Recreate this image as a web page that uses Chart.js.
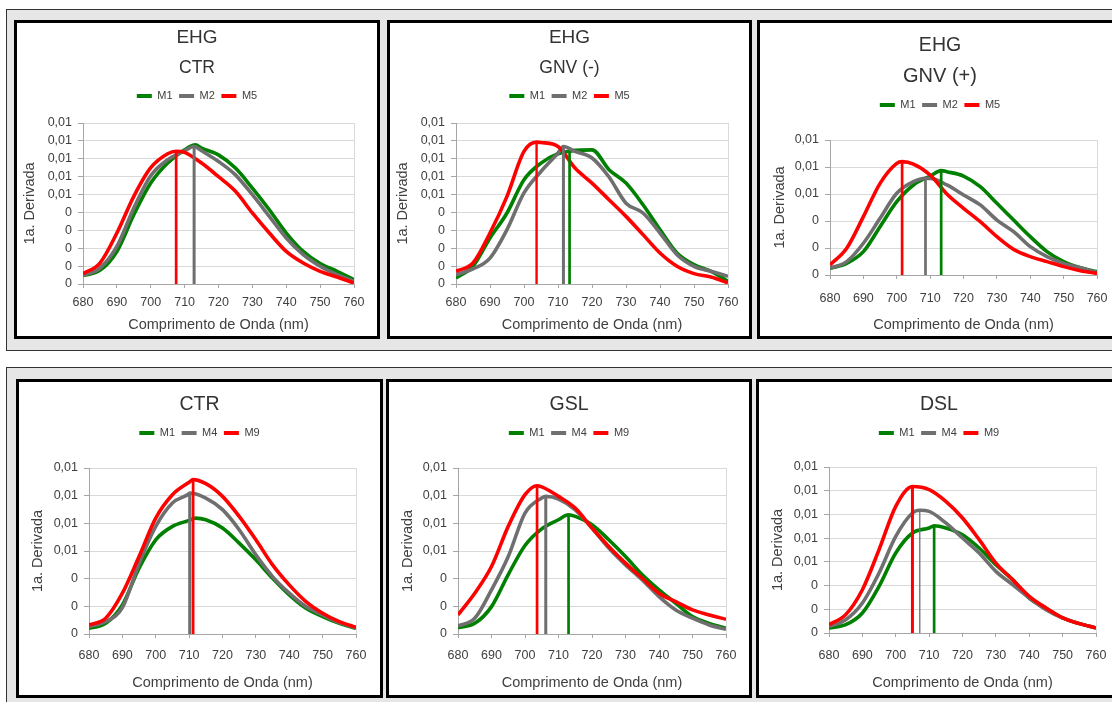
<!DOCTYPE html>
<html><head><meta charset="utf-8">
<script src="https://cdn.jsdelivr.net/npm/chart.js@4.4.1/dist/chart.umd.min.js"></script>
<style>
html,body{margin:0;padding:0;background:#fff;width:1112px;height:702px;overflow:hidden;position:relative;}
.group{position:absolute;background:#e6e6e6;border:1px solid #333;box-sizing:border-box;}
.panel{position:absolute;background:#fff;border:3px solid #000;box-sizing:border-box;overflow:hidden;}
.panel canvas{position:absolute;left:0;top:0;}
</style></head><body>
<div class="group" style="left:6px;top:9px;width:1130px;height:342px"></div>
<div class="group" style="left:6px;top:367px;width:1130px;height:360px"></div>
<div class="panel" style="left:14px;top:20px;width:366px;height:319px"><canvas id="c0" width="360" height="313"></canvas></div>
<div class="panel" style="left:387px;top:20px;width:365px;height:319px"><canvas id="c1" width="359" height="313"></canvas></div>
<div class="panel" style="left:757px;top:20px;width:366px;height:319px"><canvas id="c2" width="360" height="313"></canvas></div>
<div class="panel" style="left:16px;top:379px;width:367px;height:319px"><canvas id="c3" width="361" height="313"></canvas></div>
<div class="panel" style="left:386px;top:379px;width:366px;height:319px"><canvas id="c4" width="360" height="313"></canvas></div>
<div class="panel" style="left:756px;top:379px;width:366px;height:319px"><canvas id="c5" width="360" height="313"></canvas></div>
<script>
// ---------- DATA ----------
const WAVELENGTHS = [680,685,690,695,700,705,710,715,720,725,730,735,740,745,750,755,760];
const X_TICK_MIN = 680, X_TICK_MAX = 760, X_TICK_STEP = 10;
const Y_MAX  = [0.009, 0.009, 0.010, 0.012, 0.012, 0.014];
const Y_STEP = [0.001, 0.001, 0.002, 0.002, 0.002, 0.002];
const TITLES    = ['EHG', 'EHG', 'EHG', 'CTR', 'GSL', 'DSL'];
const SUBTITLES = ['CTR', 'GNV (-)', 'GNV (+)', null, null, null];
const SERIES_TOP    = ['M1', 'M2', 'M5'];
const SERIES_BOTTOM = ['M1', 'M4', 'M9'];
const X_TITLE = 'Comprimento de Onda (nm)';
const Y_TITLE = '1a. Derivada';

// EHG - CTR
const ehgCtr_M1 = [0.00047,0.00076,0.00182,0.00387,0.00564,0.00676,0.00750,0.00760,0.00722,0.00648,0.00536,0.00415,0.00285,0.00182,0.00114,0.00071,0.00024];
const ehgCtr_M2 = [0.00047,0.00089,0.00210,0.00425,0.00605,0.00695,0.00745,0.00745,0.00685,0.00610,0.00499,0.00378,0.00257,0.00164,0.00099,0.00052,0.00015];
const ehgCtr_M5 = [0.00058,0.00117,0.00285,0.00490,0.00650,0.00728,0.00736,0.00676,0.00600,0.00518,0.00397,0.00285,0.00182,0.00117,0.00071,0.00039,0.00005];
const ehgCtr_markX   = [713.2, 712.8, 707.5];
const ehgCtr_markTop = [0.00778, 0.00769, 0.00742];
const ehgCtr_markOn  = [0, 1, 1];

// EHG - GNV (-)
const ehgNeg_M1 = [0.00034,0.00099,0.00257,0.00397,0.00583,0.00676,0.00728,0.00747,0.00750,0.00639,0.00564,0.00443,0.00304,0.00173,0.00108,0.00071,0.00015];
const ehgNeg_M2 = [0.00052,0.00084,0.00145,0.00304,0.00509,0.00629,0.00732,0.00741,0.00704,0.00598,0.00452,0.00397,0.00285,0.00164,0.00099,0.00071,0.00043];
const ehgNeg_M5 = [0.00071,0.00117,0.00285,0.00490,0.00741,0.00791,0.00769,0.00648,0.00564,0.00471,0.00378,0.00276,0.00173,0.00099,0.00058,0.00039,0.00006];
const ehgNeg_markX   = [713.4, 711.6, 703.7];
const ehgNeg_markTop = [0.00742, 0.00769, 0.00793];
const ehgNeg_markOn  = [1, 1, 1];

// EHG - GNV (+)
const ehgPos_M1 = [0.00049,0.00086,0.00173,0.00358,0.00543,0.00667,0.00733,0.00765,0.00733,0.00654,0.00531,0.00407,0.00284,0.00173,0.00099,0.00054,0.00025];
const ehgPos_M2 = [0.00049,0.00099,0.00235,0.00420,0.00605,0.00691,0.00716,0.00667,0.00593,0.00519,0.00407,0.00321,0.00210,0.00136,0.00086,0.00054,0.00017];
const ehgPos_M5 = [0.00074,0.00198,0.00432,0.00679,0.00827,0.00822,0.00741,0.00600,0.00494,0.00395,0.00284,0.00190,0.00136,0.00099,0.00062,0.00032,0.00012];
const ehgPos_markX   = [713.3, 708.6, 701.6];
const ehgPos_markTop = [0.00773, 0.00716, 0.00840];
const ehgPos_markOn  = [1, 1, 1];

// CTR
const ctr_M1 = [0.00041,0.00077,0.00210,0.00476,0.00681,0.00778,0.00821,0.00826,0.00766,0.00657,0.00536,0.00403,0.00283,0.00186,0.00126,0.00077,0.00041];
const ctr_M4 = [0.00053,0.00089,0.00190,0.00510,0.00778,0.00947,0.01014,0.00983,0.00899,0.00754,0.00572,0.00415,0.00295,0.00198,0.00138,0.00082,0.00045];
const ctr_M9 = [0.00065,0.00114,0.00295,0.00560,0.00838,0.01007,0.01097,0.01087,0.00995,0.00850,0.00681,0.00500,0.00355,0.00234,0.00150,0.00089,0.00048];
const ctr_markX   = [712.0, 710.2, 711.2];
const ctr_markTop = [0.00838, 0.01019, 0.01116];
const ctr_markOn  = [0, 1, 1];

// GSL
const gsl_M1 = [0.00046,0.00077,0.00198,0.00430,0.00640,0.00760,0.00826,0.00850,0.00790,0.00681,0.00560,0.00428,0.00319,0.00222,0.00126,0.00077,0.00041];
const gsl_M4 = [0.00058,0.00114,0.00319,0.00560,0.00874,0.00983,0.00976,0.00898,0.00766,0.00621,0.00500,0.00391,0.00270,0.00174,0.00114,0.00065,0.00034];
const gsl_M9 = [0.00138,0.00295,0.00488,0.00778,0.01007,0.01063,0.00995,0.00910,0.00766,0.00633,0.00512,0.00403,0.00295,0.00234,0.00174,0.00138,0.00106];
const gsl_markX   = [713.0, 706.2, 703.6];
const gsl_markTop = [0.00862, 0.00995, 0.01072];
const gsl_markOn  = [1, 1, 1];

// DSL
const dsl_M1 = [0.00042,0.00070,0.00169,0.00394,0.00675,0.00843,0.00886,0.00886,0.00829,0.00717,0.00576,0.00450,0.00295,0.00211,0.00127,0.00079,0.00042];
const dsl_M4 = [0.00056,0.00112,0.00253,0.00506,0.00815,0.01012,0.01026,0.00928,0.00801,0.00675,0.00520,0.00408,0.00295,0.00197,0.00127,0.00079,0.00042];
const dsl_M9 = [0.00070,0.00155,0.00365,0.00703,0.01068,0.01231,0.01209,0.01110,0.00970,0.00787,0.00590,0.00450,0.00309,0.00211,0.00127,0.00079,0.00042];
const dsl_markX   = [711.5, 707.2, 705.0];
const dsl_markTop = [0.00905, 0.01035, 0.01235];
const dsl_markOn  = [1, 1, 1];

const PANEL_VALUES = [
  [ehgCtr_M1, ehgCtr_M2, ehgCtr_M5],
  [ehgNeg_M1, ehgNeg_M2, ehgNeg_M5],
  [ehgPos_M1, ehgPos_M2, ehgPos_M5],
  [ctr_M1, ctr_M4, ctr_M9],
  [gsl_M1, gsl_M4, gsl_M9],
  [dsl_M1, dsl_M4, dsl_M9]
];
const PANEL_MARK_X   = [ehgCtr_markX, ehgNeg_markX, ehgPos_markX, ctr_markX, gsl_markX, dsl_markX];
const PANEL_MARK_TOP = [ehgCtr_markTop, ehgNeg_markTop, ehgPos_markTop, ctr_markTop, gsl_markTop, dsl_markTop];
const PANEL_MARK_ON  = [ehgCtr_markOn, ehgNeg_markOn, ehgPos_markOn, ctr_markOn, gsl_markOn, dsl_markOn];

// ---------- STYLE / LAYOUT ----------
const FONT = "'Liberation Sans', Arial, sans-serif";
const TEXT = '#404040', TITLE_COLOR = '#333333';
const GRID = '#d9d9d9', AXIS = '#a6a6a6';
const COLORS = ['#008000', '#6f6f6f', '#ff0000'];
const CURVE_W = 3.6;
const MARK_W = [[2.7,3,2.7],[2.7,3,2.4],[2.7,2.7,2.7],[2.7,3.2,2.7],[2.7,3,2.7],[2.7,1.3,3]];
const LEG_FONT = 11, LEG_PAD = 6.5;
const TICK_FONT = 12.5, AXT_FONT = 14.5;
const LAYOUT = [
  {W:360,H:313,yW:66,padR:23,plotTop:100,plotBottom:261,tS:19,tCY:15,sS:17.5,sCY:45,legCY:73,xLabCY:280,xTitCY:302,yTitCX:13},
  {W:359,H:313,yW:66,padR:21,plotTop:100,plotBottom:261,tS:19,tCY:15,sS:17.5,sCY:45,legCY:73,xLabCY:280,xTitCY:302,yTitCX:13},
  {W:360,H:313,yW:70,padR:22,plotTop:117,plotBottom:252,tS:19.5,tCY:23,sS:20,sCY:53,legCY:82,xLabCY:276,xTitCY:302,yTitCX:20},
  {W:361,H:313,yW:70,padR:24,plotTop:86,plotBottom:252,tS:19.5,tCY:23,legCY:51,xLabCY:274,xTitCY:301,yTitCX:19},
  {W:360,H:313,yW:69,padR:23,plotTop:86,plotBottom:252,tS:19.5,tCY:23,legCY:51,xLabCY:274,xTitCY:301,yTitCX:19},
  {W:360,H:313,yW:70,padR:23,plotTop:85,plotBottom:251,tS:19.5,tCY:23,legCY:51,xLabCY:274,xTitCY:301,yTitCX:19}
];

function fmtTick(v) {
  const r = Math.round(Math.round(v * 1e6) / 1e4) / 100;
  return r === 0 ? '0' : r.toFixed(2).replace('.', ',');
}

function curvePoints(values, mx, my) {
  const pts = WAVELENGTHS.map((x, i) => ({x: x, y: values[i]}));
  const j = pts.findIndex(p => p.x === mx);
  if (j >= 0) pts[j].y = my; else pts.push({x: mx, y: my});
  pts.sort((a, b) => a.x - b.x);
  return pts;
}

function buildChart(k) {
  const L = LAYOUT[k];
  const names = k < 3 ? SERIES_TOP : SERIES_BOTTOM;
  const datasets = [];
  const drawOrder = [3, 2, 1];
  for (let s = 0; s < 3; s++) {
    datasets.push({
      label: names[s],
      data: curvePoints(PANEL_VALUES[k][s], PANEL_MARK_X[k][s], PANEL_MARK_TOP[k][s]),
      borderColor: COLORS[s], backgroundColor: COLORS[s],
      borderWidth: CURVE_W, pointRadius: 0, cubicInterpolationMode: 'monotone',
      order: drawOrder[s], xAxisID: 'x', yAxisID: 'y'
    });
  }
  for (let s = 0; s < 3; s++) {
    if (!PANEL_MARK_ON[k][s]) continue;
    datasets.push({
      label: names[s] + ' pico',
      data: [{x: PANEL_MARK_X[k][s], y: 0}, {x: PANEL_MARK_X[k][s], y: PANEL_MARK_TOP[k][s]}],
      borderColor: COLORS[s], borderWidth: MARK_W[k][s], pointRadius: 0,
      order: -drawOrder[s], xAxisID: 'x', yAxisID: 'y'
    });
  }

  const tLH = L.tS * 1.2;
  const tPadTop = L.tCY - tLH / 2;
  let prevBottom = tPadTop + tLH;
  const legendTop = L.legCY - LEG_FONT / 2 - LEG_PAD;
  let tPadBottom = 0, sPad = {top: 0, bottom: 0};
  const sub = SUBTITLES[k];
  if (sub) {
    const sLH = L.sS * 1.2;
    sPad.top = L.sCY - sLH / 2 - prevBottom;
    prevBottom = L.sCY + sLH / 2;
    sPad.bottom = legendTop - prevBottom;
  } else {
    tPadBottom = legendTop - prevBottom;
  }
  const legendBottom = legendTop + LEG_FONT + LEG_PAD + 10;
  const gap = Math.max(0, L.plotTop - legendBottom);
  const xH = L.H - L.plotBottom;
  const axLH = AXT_FONT * 1.2;

  new Chart(document.getElementById('c' + k), {
    type: 'line',
    data: {datasets: datasets},
    options: {
      responsive: false, animation: false, devicePixelRatio: 1, events: [],
      layout: {padding: 0},
      plugins: {
        tooltip: {enabled: false},
        title: {display: true, text: TITLES[k], color: TITLE_COLOR,
                font: {family: FONT, size: L.tS, weight: 'normal'},
                padding: {top: tPadTop, bottom: tPadBottom}},
        subtitle: {display: !!sub, text: sub || '', color: TITLE_COLOR,
                   font: {family: FONT, size: L.sS || 17, weight: 'normal'},
                   padding: sPad},
        legend: {display: true, position: 'top',
          labels: {
            font: {family: FONT, size: LEG_FONT}, color: TEXT,
            boxWidth: 15, boxHeight: 4, padding: LEG_PAD,
            generateLabels: (chart) => {
              const items = Chart.defaults.plugins.legend.labels.generateLabels(chart);
              items.forEach(it => { it.fillStyle = it.strokeStyle; it.lineWidth = 0; });
              return items;
            },
            filter: (item) => item.datasetIndex < 3,
            sort: (a, b) => a.datasetIndex - b.datasetIndex
          }
        }
      },
      scales: {
        x: {
          type: 'linear', position: 'bottom', min: X_TICK_MIN, max: X_TICK_MAX,
          ticks: {stepSize: X_TICK_STEP, autoSkip: false, maxRotation: 0, color: TEXT,
                  font: {family: FONT, size: TICK_FONT},
                  padding: L.xLabCY - TICK_FONT * 0.6 - L.plotBottom - 4},
          grid: {color: (c) => (c.tick && c.tick.value === X_TICK_MAX) ? GRID : 'rgba(0,0,0,0)',
                 tickColor: AXIS, tickLength: 4, lineWidth: 1},
          border: {color: AXIS, width: 1},
          title: {display: true, text: X_TITLE, color: TEXT, font: {family: FONT, size: AXT_FONT},
                  padding: {top: 0, bottom: L.H - L.xTitCY - axLH / 2}},
          afterFit: (s) => { s.height = xH; }
        },
        y: {
          type: 'linear', position: 'left', min: 0, max: Y_MAX[k],
          ticks: {stepSize: Y_STEP[k], autoSkip: false, color: TEXT, font: {family: FONT, size: TICK_FONT},
                  padding: 6, callback: fmtTick},
          grid: {color: GRID, tickColor: AXIS, tickLength: 5, lineWidth: 1},
          border: {color: AXIS, width: 1},
          title: {display: true, text: Y_TITLE, color: TEXT, font: {family: FONT, size: AXT_FONT},
                  padding: {top: L.yTitCX - axLH / 2, bottom: 0}},
          afterFit: (s) => { s.width = L.yW; }
        },
        gap: {
          type: 'linear', position: 'top', display: true,
          grid: {display: false}, ticks: {display: false}, border: {display: false},
          title: {display: false},
          afterFit: (s) => { s.height = gap; }
        },
        rpad: {
          type: 'linear', position: 'right', display: true,
          grid: {display: false}, ticks: {display: false}, border: {display: false},
          title: {display: false},
          afterFit: (s) => { s.width = L.padR; }
        }
      }
    }
  });
}
for (let k = 0; k < 6; k++) buildChart(k);
</script>
</body></html>
